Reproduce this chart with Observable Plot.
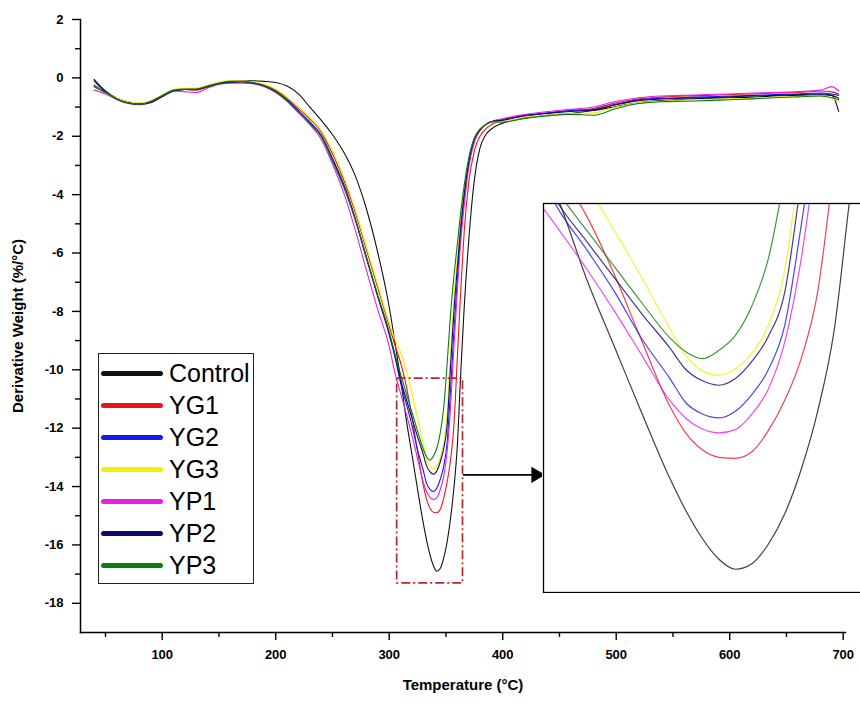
<!DOCTYPE html>
<html><head><meta charset="utf-8">
<script src="https://cdn.jsdelivr.net/npm/d3@7"></script>
<script src="https://cdn.jsdelivr.net/npm/@observablehq/plot@0.6"></script>
<style>
body{margin:0;background:#fff;}
#wrap{position:relative;width:860px;height:707px;overflow:hidden;font-family:"Liberation Sans",Arial,sans-serif;}
#inset{position:absolute;left:542px;top:202px;width:324px;height:391px;}
#inset svg{max-width:none;display:block;}
#legend{position:absolute;left:98px;top:353px;width:156px;height:231px;border:1px solid #222;background:#fff;box-sizing:border-box;}
.row{position:absolute;left:0;height:32px;display:flex;align-items:center;}
.sw{width:62px;height:5px;border-radius:3px;margin-left:2px;margin-right:6px;}
.lab{font-size:25px;color:#000;line-height:32px;}
</style></head><body><div id="wrap"><div id="main"></div><div id="inset"></div><div id="legend"></div></div>
<script>
const series = ["Control","YG1","YG2","YG3","YP1","YP2","YP3"];
const colors = ["#111111","#e8161b","#1a1ae6","#f0f000","#e61ee6","#0b0b6e","#0d7d0d"];
const temps = [40,50,60,70,80,90,100,110,120,130,140,150,160,170,180,190,200,210,220,230,240,250,260,270,280,290,
  300,305,310,315,320,325,330,333,336,339,342,345,348,351,354,357,360,363,366,370,375,380,385,390,
  400,420,440,460,480,500,520,540,560,580,600,620,640,660,680,690,696];
const control = [-0.05,-0.45,-0.7,-0.82,-0.88,-0.82,-0.62,-0.45,-0.4,-0.38,-0.28,-0.18,-0.12,-0.1,-0.1,-0.12,-0.16,-0.28,-0.55,-1.0,-1.45,-1.95,-2.55,-3.35,-4.5,-6.0,
  -7.85,-9.05,-10.3,-11.7,-12.9,-14.1,-15.25,-15.85,-16.35,-16.72,-16.9,-16.8,-16.45,-15.9,-15.1,-14.05,-12.6,-10.1,-7.9,-5.6,-3.5,-2.4,-1.95,-1.75,
  -1.55,-1.38,-1.28,-1.22,-1.12,-0.98,-0.85,-0.78,-0.74,-0.7,-0.68,-0.66,-0.62,-0.6,-0.58,-0.6,-1.15];
const yg1 = [-0.3,-0.5,-0.72,-0.85,-0.9,-0.8,-0.6,-0.42,-0.4,-0.42,-0.3,-0.2,-0.15,-0.13,-0.16,-0.25,-0.42,-0.7,-1.05,-1.4,-1.85,-2.6,-3.5,-4.6,-5.9,-7.2,
  -8.5,-9.15,-9.75,-10.55,-11.6,-12.8,-13.95,-14.45,-14.75,-14.88,-14.9,-14.78,-14.4,-13.85,-13.1,-11.9,-9.6,-7.3,-5.3,-3.6,-2.5,-2.0,-1.75,-1.6,
  -1.45,-1.3,-1.2,-1.12,-1.05,-0.85,-0.72,-0.66,-0.62,-0.6,-0.57,-0.55,-0.52,-0.5,-0.45,-0.48,-0.55];
const yg2 = [-0.25,-0.5,-0.72,-0.86,-0.9,-0.82,-0.62,-0.44,-0.4,-0.4,-0.3,-0.2,-0.15,-0.13,-0.17,-0.27,-0.45,-0.75,-1.12,-1.5,-1.95,-2.75,-3.65,-4.8,-6.15,-7.5,
  -8.8,-9.55,-10.45,-11.15,-11.9,-12.75,-13.45,-13.9,-14.1,-14.17,-14.05,-13.75,-13.3,-12.5,-10.7,-8.7,-6.9,-5.3,-4.1,-2.95,-2.15,-1.8,-1.6,-1.5,
  -1.42,-1.28,-1.2,-1.12,-1.08,-0.9,-0.75,-0.7,-0.67,-0.65,-0.62,-0.6,-0.57,-0.55,-0.52,-0.55,-0.6];
const yg3 = [-0.3,-0.5,-0.7,-0.82,-0.86,-0.78,-0.58,-0.4,-0.36,-0.35,-0.25,-0.15,-0.1,-0.1,-0.14,-0.22,-0.38,-0.65,-1.0,-1.35,-1.8,-2.5,-3.4,-4.5,-5.8,-7.1,
  -8.4,-8.95,-9.4,-10.0,-10.8,-11.65,-12.55,-13.05,-13.32,-13.4,-13.28,-13.0,-12.5,-11.5,-9.4,-7.6,-6.2,-4.9,-3.9,-2.85,-2.1,-1.8,-1.62,-1.52,
  -1.5,-1.35,-1.28,-1.22,-1.2,-1.0,-0.85,-0.8,-0.76,-0.74,-0.72,-0.7,-0.66,-0.63,-0.62,-0.7,-0.8];
const yp1 = [-0.42,-0.55,-0.75,-0.88,-0.92,-0.85,-0.65,-0.45,-0.48,-0.5,-0.35,-0.22,-0.18,-0.18,-0.2,-0.3,-0.5,-0.8,-1.2,-1.6,-2.1,-2.95,-3.95,-5.2,-6.6,-7.95,
  -9.2,-10.1,-10.8,-11.5,-12.25,-13.05,-13.85,-14.18,-14.37,-14.44,-14.38,-14.1,-13.65,-12.8,-11.3,-9.2,-7.3,-5.6,-4.4,-3.1,-2.2,-1.8,-1.6,-1.5,
  -1.4,-1.25,-1.15,-1.08,-1.0,-0.8,-0.68,-0.62,-0.6,-0.57,-0.55,-0.52,-0.5,-0.47,-0.42,-0.3,-0.45];
const yp2 = [-0.1,-0.48,-0.72,-0.86,-0.9,-0.84,-0.64,-0.45,-0.4,-0.4,-0.3,-0.2,-0.15,-0.13,-0.18,-0.28,-0.48,-0.78,-1.15,-1.55,-2.0,-2.8,-3.7,-4.85,-6.2,-7.5,
  -8.75,-9.5,-10.35,-11.0,-11.65,-12.3,-12.9,-13.3,-13.5,-13.58,-13.46,-13.15,-12.7,-11.9,-9.9,-8.0,-6.5,-5.1,-4.0,-2.9,-2.1,-1.78,-1.6,-1.5,
  -1.45,-1.3,-1.22,-1.15,-1.1,-0.92,-0.78,-0.72,-0.7,-0.68,-0.65,-0.62,-0.6,-0.57,-0.55,-0.6,-0.7];
const yp3 = [-0.3,-0.5,-0.72,-0.85,-0.9,-0.8,-0.6,-0.42,-0.38,-0.38,-0.28,-0.18,-0.12,-0.12,-0.16,-0.26,-0.45,-0.78,-1.15,-1.55,-2.0,-2.85,-3.75,-4.85,-6.15,-7.45,
  -8.7,-9.45,-10.15,-10.8,-11.45,-12.1,-12.72,-12.98,-13.1,-12.95,-12.68,-12.15,-11.3,-9.8,-8.1,-6.8,-5.7,-4.6,-3.7,-2.75,-2.05,-1.75,-1.6,-1.5,
  -1.52,-1.38,-1.3,-1.25,-1.28,-1.05,-0.88,-0.82,-0.8,-0.78,-0.75,-0.72,-0.68,-0.65,-0.62,-0.68,-0.75];
const xMajor = [100,200,300,400,500,600,700];
const xMinor = [50,150,250,350,450,550,650];
const yMajor = [2,0,-2,-4,-6,-8,-10,-12,-14,-16,-18];
const yMinor = [1,-1,-3,-5,-7,-9,-11,-13,-15,-17];
const xDomain = [28, 702];
const yDomain = [-19, 2];
const zoomBox = [{x1: 307, x2: 365, y1: -17.32, y2: -10.3}];
const arrowDef = [{x1: 365, y1: -13.6, x2: 435.5, y2: -13.6}];
const insetX = [307, 365];
const insetY = [-17.32, -10.3];

const valuesBySeries = [control, yg1, yg2, yg3, yp1, yp2, yp3];
const rows = series.flatMap((s, i) => temps.map((t, j) => ({series: s, temp: t, value: valuesBySeries[i][j]})));
const font = "'Liberation Sans', Arial, sans-serif";

const main = Plot.plot({
  width: 860, height: 707,
  marginLeft: 80, marginRight: 15, marginTop: 19, marginBottom: 75,
  x: {domain: xDomain},
  y: {domain: yDomain},
  color: {domain: series, range: colors},
  style: {fontFamily: font, fontSize: "13px", fontWeight: "bold", background: "white", color: "#000"},
  marks: [
    Plot.frame({anchor: "left", stroke: "#000", strokeWidth: 1.5}),
    Plot.frame({anchor: "bottom", stroke: "#000", strokeWidth: 1.5}),
    Plot.axisX(xMajor, {tickSize: 8, tickPadding: 9, label: null, tickFormat: d => String(d), strokeWidth: 1.4}),
    Plot.axisX(xMinor, {tickSize: 5, label: null, tickFormat: () => "", strokeWidth: 1.4}),
    Plot.axisY(yMajor, {tickSize: 8, tickPadding: 9, label: null, tickFormat: d => String(d), strokeWidth: 1.4}),
    Plot.axisY(yMinor, {tickSize: 5, label: null, tickFormat: () => "", strokeWidth: 1.4}),
    Plot.text(["Temperature (°C)"], {frameAnchor: "bottom", textAnchor: "middle", dy: 57, fontSize: 15, fontWeight: "bold"}),
    Plot.text(["Derivative Weight (%/°C)"], {frameAnchor: "left", textAnchor: "middle", dx: -62, rotate: -90, fontSize: 15, fontWeight: "bold"}),
    Plot.line(rows, {x: "temp", y: "value", z: "series", stroke: "series", strokeWidth: 1.1, curve: "monotone-x"}),
    Plot.rect(zoomBox, {x1: "x1", x2: "x2", y1: "y1", y2: "y2", fill: "none", stroke: "#b3282a", strokeWidth: 1.7, strokeDasharray: "9,3,2,3"}),
    Plot.link(arrowDef, {x1: "x1", y1: "y1", x2: "x2", y2: "y2", stroke: "#000", strokeWidth: 1.6}),
    Plot.dot(arrowDef, {x: "x2", y: "y2", symbol: "triangle", rotate: 90, r: 6, fill: "#000", stroke: "none", dx: -7})
  ]
});
document.getElementById("main").appendChild(main);

const inset = Plot.plot({
  width: 324, height: 391,
  marginLeft: 1, marginRight: 5, marginTop: 1, marginBottom: 1,
  x: {domain: insetX, axis: null},
  y: {domain: insetY, axis: null},
  color: {domain: series, range: colors},
  style: {background: "white", maxWidth: "none"},
  marks: [
    Plot.line(rows, {x: "temp", y: "value", z: "series", stroke: "series", strokeWidth: 1.2, strokeOpacity: 0.8, curve: "monotone-x", clip: true}),
    Plot.frame({stroke: "#000", strokeWidth: 1.3})
  ]
});
document.getElementById("inset").appendChild(inset);

const legend = document.getElementById("legend");
series.forEach((s, i) => {
  const row = document.createElement("div");
  row.className = "row";
  row.style.top = (3 + i * 32) + "px";
  const sw = document.createElement("div");
  sw.className = "sw";
  sw.style.background = colors[i];
  const lab = document.createElement("span");
  lab.className = "lab";
  lab.textContent = s;
  row.appendChild(sw); row.appendChild(lab);
  legend.appendChild(row);
});
</script></body></html>
